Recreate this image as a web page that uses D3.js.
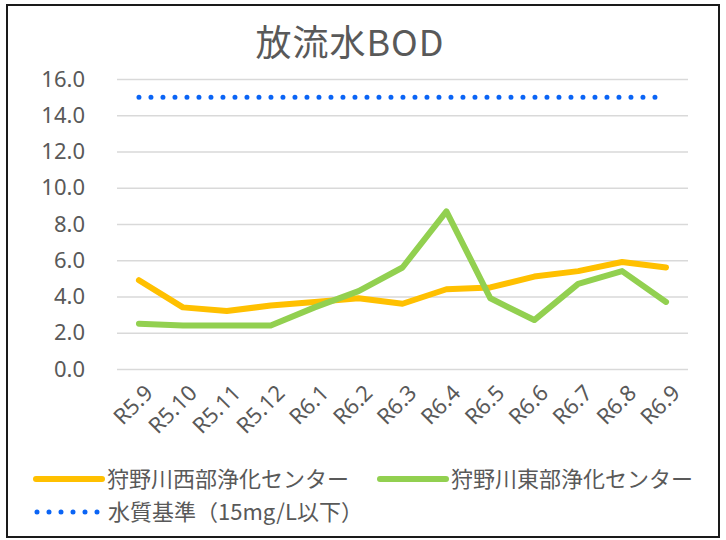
<!DOCTYPE html>
<html lang="ja">
<head>
<meta charset="utf-8">
<title>放流水BOD</title>
<script src="https://d3js.org/d3.v7.min.js"></script>
<style type="text/css">
  body { margin: 0; background: #fff; }
  text { font-family: 'Noto Sans CJK JP', 'Noto Sans', sans-serif; fill: #595959; }
  .tick text { font-family: 'Liberation Sans Narrow', 'Noto Sans', sans-serif; }
</style>
</head>
<body>
<div id="chart"></div>
<script>

/* Data */
/* ==== */

var months = ['R5.9', 'R5.10', 'R5.11', 'R5.12', 'R6.1', 'R6.2', 'R6.3',
              'R6.4', 'R6.5', 'R6.6', 'R6.7', 'R6.8', 'R6.9'];

var westValues = [4.9, 3.4, 3.2, 3.5, 3.7, 3.9, 3.6, 4.4, 4.5, 5.1, 5.4, 5.9, 5.6];
var eastValues = [2.5, 2.4, 2.4, 2.4, 3.4, 4.3, 5.6, 8.7, 3.9, 2.7, 4.7, 5.4, 3.7];
var standardValue = 15;

var yTicks = [0, 2, 4, 6, 8, 10, 12, 14, 16];

var seriesNames = ['狩野川西部浄化センター', '狩野川東部浄化センター', '水質基準（15mg/L以下）'];


/* Setup */
/* ===== */

var width = 726,
    height = 540;

var svg = d3.select('#chart').append('svg')
  .attr('width', width)
  .attr('height', height);

// outer frame
svg.append('rect')
  .attr('x', 7).attr('y', 5)
  .attr('width', 712).attr('height', 532)
  .attr('fill', '#fff')
  .attr('stroke', '#1a1a1a')
  .attr('stroke-width', 2);

var x = d3.scaleBand()
  .domain(months)
  .range([117, 688])
  .paddingInner(0);

var y = d3.scaleLinear()
  .domain([0, 16])
  .range([369, 79]);

function cx(d) { return x(d) + x.bandwidth() / 2; }


/* Title */
/* ===== */

svg.append('text')
  .attr('x', 350)
  .attr('y', 56)
  .attr('text-anchor', 'middle')
  .style('font-size', '36px')
  .style('letter-spacing', '1px')
  .text('放流水BOD');


/* Axes */
/* ==== */

var yAxis = d3.axisLeft(y)
  .tickValues(yTicks)
  .tickSize(-(688 - 117))
  .tickPadding(32)
  .tickFormat(d3.format('.1f'));

var gy = svg.append('g')
  .attr('transform', 'translate(117,0)')
  .call(yAxis);

gy.select('.domain').remove();
gy.selectAll('line').attr('stroke', '#d9d9d9').attr('stroke-width', 1.5);
gy.selectAll('text')
  .style('font-size', '22px')
  .attr('fill', '#595959');

// x labels, rotated
var xAxis = d3.axisBottom(x).tickSize(0).tickPadding(0);
var gx = svg.append('g')
  .attr('transform', 'translate(0,369)')
  .call(xAxis);
gx.select('.domain').remove();
gx.selectAll('text')
  .style('font-size', '22px')
  .attr('fill', '#595959')
  .attr('text-anchor', 'end')
  .attr('dy', '0.35em')
  .attr('transform', 'translate(10,20) rotate(-45)');


/* Lines */
/* ===== */

var line = d3.line()
  .x(function(d, i) { return cx(months[i]); })
  .y(function(d) { return y(d); });

svg.append('path')
  .datum(months.map(function() { return standardValue; }))
  .attr('d', line)
  .attr('fill', 'none')
  .attr('stroke', '#0a64f5')
  .attr('stroke-width', 5)
  .attr('stroke-linecap', 'round')
  .attr('stroke-dasharray', '0,12');

svg.append('path')
  .datum(westValues)
  .attr('d', line)
  .attr('fill', 'none')
  .attr('stroke', '#ffc000')
  .attr('stroke-width', 6)
  .attr('stroke-linecap', 'round')
  .attr('stroke-linejoin', 'round');

svg.append('path')
  .datum(eastValues)
  .attr('d', line)
  .attr('fill', 'none')
  .attr('stroke', '#92d050')
  .attr('stroke-width', 6)
  .attr('stroke-linecap', 'round')
  .attr('stroke-linejoin', 'round');


/* Legend */
/* ====== */

var legendItems = [
  { name: seriesNames[0], color: '#ffc000', x: 36, y: 479, dotted: false },
  { name: seriesNames[1], color: '#92d050', x: 380, y: 479, dotted: false },
  { name: seriesNames[2], color: '#0a64f5', x: 37, y: 512, dotted: true }
];

var legend = svg.selectAll('g.legend')
  .data(legendItems)
  .enter().append('g')
  .attr('class', 'legend')
  .attr('transform', function(d) { return 'translate(' + d.x + ',' + d.y + ')'; });

legend.append('line')
  .attr('x1', 0).attr('x2', function(d) { return d.dotted ? 61 : 66; })
  .attr('y1', 0).attr('y2', 0)
  .attr('stroke', function(d) { return d.color; })
  .attr('stroke-width', function(d) { return d.dotted ? 5 : 6; })
  .attr('stroke-linecap', 'round')
  .attr('stroke-dasharray', function(d) { return d.dotted ? '0,12' : null; });

legend.append('text')
  .attr('x', 71)
  .attr('dy', '0.35em')
  .style('font-size', '22px')
  .text(function(d) { return d.name; });

</script>
</body>
</html>
